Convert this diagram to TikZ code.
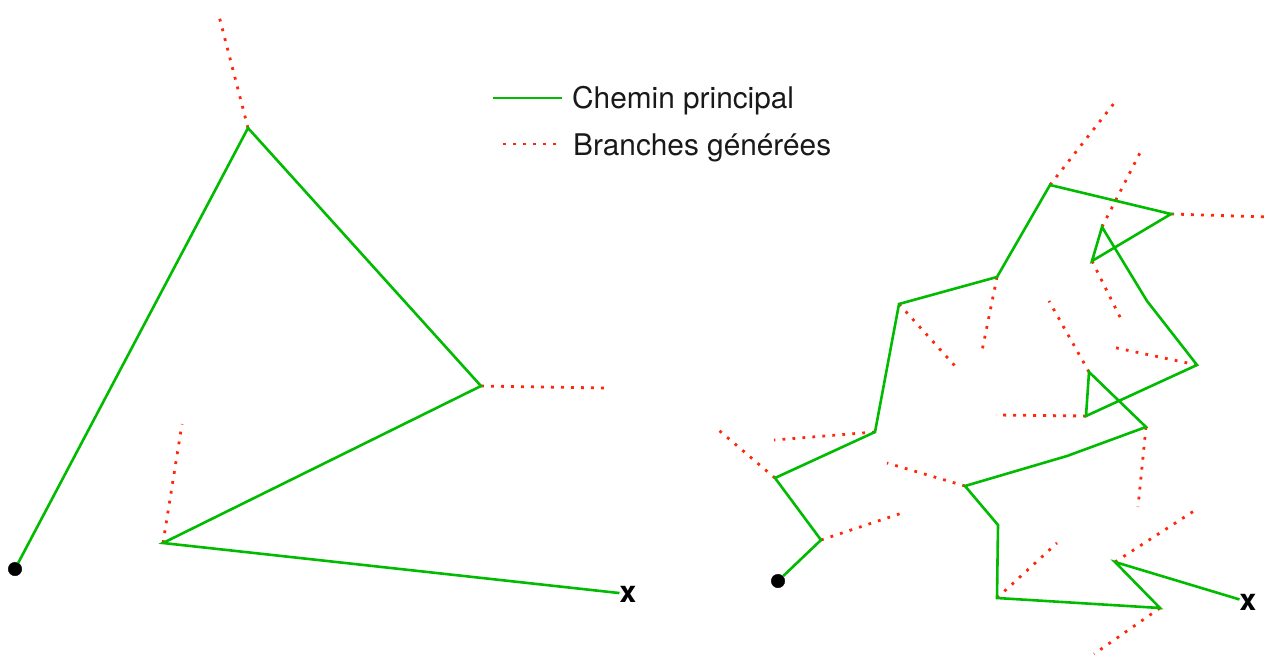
\documentclass[tikz,border=0pt]{standalone}
\usepackage{fontspec}
\setmainfont{TeX Gyre Heros}
\usetikzlibrary{calc}
\definecolor{vert}{RGB}{0,187,0}
\definecolor{rouge}{RGB}{255,40,10}
\tikzset{chemin/.style={draw=vert, line width=2.6pt}}
\tikzset{branche/.style={draw=rouge, line width=2.8pt, dash pattern=on 2.8pt off 7.2pt}}
\tikzset{depart/.style={circle, draw, fill=black, inner sep=0pt, minimum width=13.5pt}}
\tikzset{arrivee/.style={inner sep=0pt, font=\fontsize{30}{30}\selectfont\bfseries}}
\tikzset{legende/.style={anchor=base west, inner sep=0pt, text=black!90, font=\fontsize{29.8}{34}\selectfont}}

\begin{document}
\begin{tikzpicture}[x=1pt, y=-1pt]
\useasboundingbox (0,0) rectangle (1279,658);

% legende
\coordinate (lg1) at (493,98); \coordinate (lg2) at (562,98);
\coordinate (lg3) at (503,144); \coordinate (lg4) at (556,144);
\draw[chemin] (lg1) -- (lg2);
\draw[branche] (lg3) -- (lg4);
\node[legende] (t1) at (572,109) {Chemin principal};
\node[legende] (t2) at (573,155) {Branches générées};

% gauche
\node[depart] (l0) at (15,569) {};
\coordinate (l1) at (248,128);
\coordinate (l2) at (481,386);
\coordinate (l3) at (163,543);
\node[arrivee] (lx) at (628,594) {x};
\coordinate (lb1) at (218,12);
\coordinate (lb2) at (605,388);
\coordinate (lb3) at (182,424);

\draw[branche] (l1) -- (lb1);
\draw[branche] (l2) -- (lb2);
\draw[branche] (l3) -- (lb3);
\draw[chemin] (l0) -- (l1) -- (l2) -- (l3) -- (lx);

% droite
\node[depart] (r0) at (778,581) {};
\coordinate (r1) at (821,540);
\coordinate (r2) at (775,478);
\coordinate (r3) at (875,432);
\coordinate (r4) at (899,304);
\coordinate (r5) at (997,277);
\coordinate (r6) at (1050,185);
\coordinate (r7) at (1171,214);
\coordinate (r8) at (1092,261);
\coordinate (r9) at (1102,227);
\coordinate (r10) at (1147,301);
\coordinate (r11) at (1197,365);
\coordinate (r12) at (1086,416);
\coordinate (r13) at (1089,372);
\coordinate (r14) at (1146,427);
\coordinate (r15) at (1067,456);
\coordinate (r16) at (965,486);
\coordinate (r17) at (998,525);
\coordinate (r18) at (997,598);
\coordinate (r19) at (1160,608);
\coordinate (r20) at (1115,562);
\node[arrivee] (rx) at (1248,602) {x};

\coordinate (rb1) at (905,512);
\coordinate (rb2) at (715,427);
\coordinate (rb3) at (774,440);
\coordinate (rb4) at (955,366);
\coordinate (rb5) at (982,351);
\coordinate (rb6) at (1115,102);
\coordinate (rb7) at (1268,217);
\coordinate (rb8) at (1121,319);
\coordinate (rb9) at (1143,147);
\coordinate (rb11) at (1112,347);
\coordinate (rb12) at (996,415);
\coordinate (rb13) at (1049,301);
\coordinate (rb14) at (1138,507);
\coordinate (rb16) at (887,463);
\coordinate (rb18) at (1057,543);
\coordinate (rb19) at (1094,654);
\coordinate (rb20) at (1197,509);

\draw[branche] (r1) -- (rb1);
\draw[branche] (r2) -- (rb2);
\draw[branche] (r3) -- (rb3);
\draw[branche] (r4) -- (rb4);
\draw[branche] (r5) -- (rb5);
\draw[branche] (r6) -- (rb6);
\draw[branche] (r7) -- (rb7);
\draw[branche] (r8) -- (rb8);
\draw[branche] (r9) -- (rb9);
\draw[branche] (r11) -- (rb11);
\draw[branche] (r12) -- (rb12);
\draw[branche] (r13) -- (rb13);
\draw[branche] (r14) -- (rb14);
\draw[branche] (r16) -- (rb16);
\draw[branche] (r18) -- (rb18);
\draw[branche] (r19) -- (rb19);
\draw[branche] (r20) -- (rb20);

\draw[chemin] (r0) -- (r1) -- (r2) -- (r3) -- (r4) -- (r5) -- (r6) -- (r7) -- (r8) -- (r9) -- (r10)
  -- (r11) -- (r12) -- (r13) -- (r14) -- (r15) -- (r16) -- (r17) -- (r18) -- (r19) -- (r20) -- (rx);
\end{tikzpicture}
\end{document}
